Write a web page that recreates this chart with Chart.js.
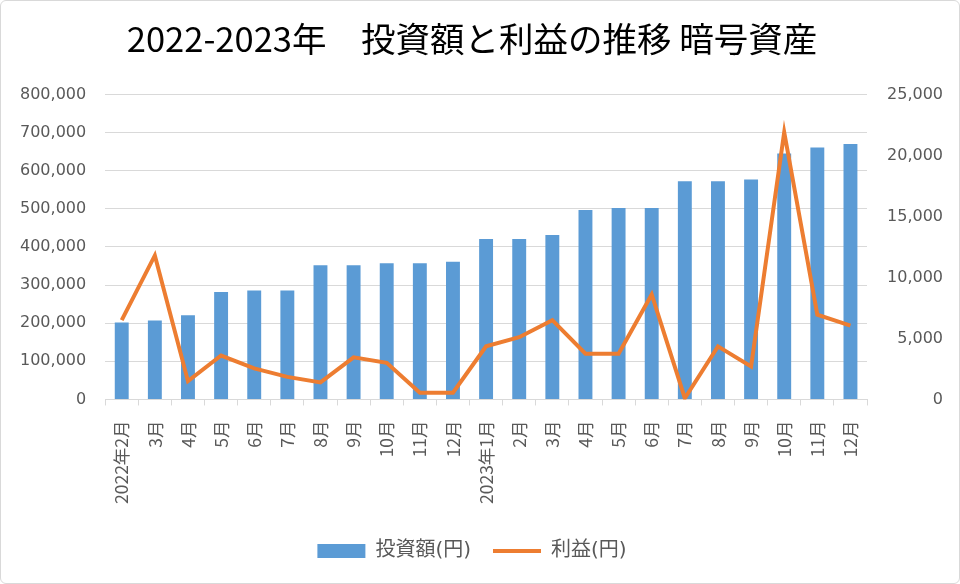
<!DOCTYPE html>
<html>
<head>
<meta charset="utf-8">
<script src="https://cdn.jsdelivr.net/npm/chart.js@4.4.0/dist/chart.umd.min.js"></script>
<style>
  html, body { margin: 0; padding: 0; background: #fff; }
  .wrap {
    width: 958px; height: 582px;
    border: 1px solid #d9d9d9; border-radius: 6px;
    position: relative; overflow: hidden;
  }
</style>
</head>
<body>
<div class="wrap"><canvas id="chart" width="958" height="582"></canvas></div>
<script>
// 月ラベル
const categories = [
    '2022年2月', '3月', '4月', '5月', '6月', '7月', '8月', '9月', '10月', '11月', '12月',
    '2023年1月', '2月', '3月', '4月', '5月', '6月', '7月', '8月', '9月', '10月', '11月', '12月'
];
// 投資額(円)
const investment = [
    202000, 207000, 221000, 282000, 286000, 286000, 352000, 352000, 357000, 357000, 361000,
    421000, 421000, 431000, 497000, 502000, 502000, 572000, 572000, 577000, 645000, 661000, 670000
];
// 利益(円)
const profit = [
    6500, 11800, 1500, 3600, 2550, 1850, 1400, 3450, 3000, 550, 550,
    4350, 5100, 6500, 3750, 3750, 8600, 100, 4350, 2700, 21900, 6950, 6050
];
const leftAxisMax = 800000;
const leftAxisStep = 100000;
const rightAxisMax = 25000;
const rightAxisStep = 5000;

const tickColor = '#595959';
const jpFont = '"DejaVu Sans", "Noto Sans CJK JP", sans-serif';
const fmt = v => v.toLocaleString('en-US');

new Chart(document.getElementById('chart'), {
    type: 'bar',
    data: {
        labels: categories,
        datasets: [
            {
                type: 'line',
                label: '利益(円)',
                data: profit,
                yAxisID: 'y1',
                borderColor: '#ED7D31',
                backgroundColor: '#ED7D31',
                borderWidth: 4,
                pointRadius: 0,
                pointStyle: 'line',
                tension: 0,
                order: 0
            },
            {
                label: '投資額(円)',
                data: investment,
                yAxisID: 'y',
                backgroundColor: '#5B9BD5',
                borderColor: '#5B9BD5',
                barPercentage: 0.42,
                categoryPercentage: 1,
                pointStyle: 'rect',
                order: 1
            }
        ]
    },
    options: {
        responsive: false,
        animation: false,
        layout: { padding: { left: 0, right: 16, top: 12, bottom: 12 } },
        plugins: {
            title: {
                display: true,
                text: '2022-2023年　投資額と利益の推移 暗号資産',
                color: '#000',
                font: { family: '"Noto Sans CJK JP", sans-serif', size: 34.5, weight: 'normal' },
                padding: { top: 5, bottom: 35 }
            },
            legend: {
                position: 'bottom',
                reverse: true,
                labels: {
                    usePointStyle: true,
                    pointStyleWidth: 48,
                    boxHeight: 14,
                    padding: 22,
                    color: tickColor,
                    font: { family: jpFont, size: 20 }
                }
            },
            tooltip: { enabled: false }
        },
        scales: {
            x: {
                grid: { drawOnChartArea: false, drawTicks: true, tickLength: 6, color: '#d9d9d9', offset: true },
                border: { color: '#d9d9d9' },
                ticks: {
                    color: tickColor,
                    padding: 15,
                    minRotation: 90,
                    maxRotation: 90,
                    autoSkip: false,
                    font: { family: '"Noto Sans CJK JP", sans-serif', size: 17.5 }
                }
            },
            y: {
                position: 'left',
                min: 0,
                max: leftAxisMax,
                grid: { color: '#d9d9d9', drawTicks: false },
                border: { display: false },
                ticks: {
                    stepSize: leftAxisStep,
                    color: tickColor,
                    padding: 19,
                    font: { family: '"DejaVu Sans", sans-serif', size: 16 },
                    callback: v => fmt(v)
                }
            },
            y1: {
                position: 'right',
                min: 0,
                max: rightAxisMax,
                grid: { drawOnChartArea: false, drawTicks: false },
                border: { display: false },
                ticks: {
                    stepSize: rightAxisStep,
                    color: tickColor,
                    padding: 10,
                    crossAlign: 'far',
                    font: { family: '"DejaVu Sans", sans-serif', size: 16 },
                    callback: v => fmt(v)
                }
            }
        }
    }
});
</script>
</body>
</html>
